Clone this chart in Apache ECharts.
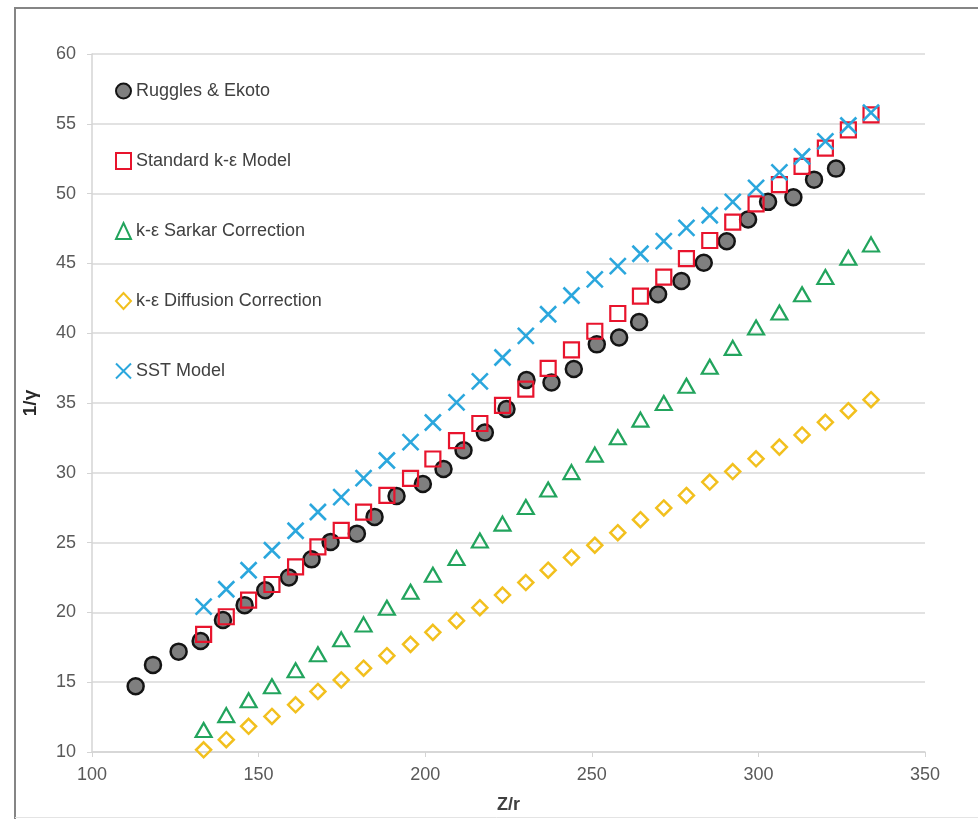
<!DOCTYPE html>
<html>
<head>
<meta charset="utf-8">
<script src="https://cdn.jsdelivr.net/npm/echarts@6/dist/echarts.min.js"></script>
<style>
html,body{margin:0;padding:0;background:#fff;}
#chart{width:978px;height:819px;}
</style>
</head>
<body>
<div id="chart"></div>
<script>
// Ruggles & Ekoto experimental data
const rugglesX = [113.1, 118.3, 126.0, 132.6, 139.3, 145.8, 152.0, 159.1, 165.9, 171.6, 179.5, 184.8, 191.4, 199.3, 205.5, 211.5, 217.9, 224.4, 230.4, 237.9, 244.6, 251.5, 258.2, 264.2, 269.9, 276.9, 283.6, 290.5, 296.9, 302.9, 310.5, 316.7, 323.3];
const rugglesY = [14.71, 16.24, 17.19, 17.95, 19.45, 20.52, 21.59, 22.5, 23.8, 25.05, 25.64, 26.84, 28.34, 29.2, 30.27, 31.62, 32.88, 34.57, 36.65, 36.47, 37.43, 39.2, 39.69, 40.8, 42.79, 43.74, 45.05, 46.59, 48.14, 49.41, 49.74, 51.0, 51.79];

// Model x positions (shared by all CFD series)
const modelX = [133.5, 140.3, 147.0, 154.0, 161.1, 167.8, 174.8, 181.5, 188.5, 195.6, 202.3, 209.4, 216.4, 223.2, 230.2, 236.9, 243.9, 250.9, 257.8, 264.6, 271.6, 278.4, 285.4, 292.3, 299.3, 306.3, 313.1, 320.1, 327.0, 333.8];
const standardY = [18.43, 19.69, 20.88, 22.0, 23.26, 24.7, 25.88, 27.19, 28.38, 29.6, 30.99, 32.31, 33.53, 34.83, 36.0, 37.48, 38.81, 40.14, 41.41, 42.66, 44.02, 45.34, 46.64, 47.95, 49.26, 50.64, 51.95, 53.26, 54.57, 55.64];
const sarkarY = [11.57, 12.64, 13.71, 14.71, 15.86, 17.0, 18.07, 19.14, 20.33, 21.48, 22.7, 23.9, 25.15, 26.36, 27.55, 28.8, 30.05, 31.3, 32.55, 33.81, 35.0, 36.24, 37.6, 38.95, 40.41, 41.48, 42.79, 44.02, 45.41, 46.36];
const diffusionY = [10.16, 10.88, 11.84, 12.55, 13.38, 14.34, 15.16, 16.0, 16.9, 17.71, 18.57, 19.41, 20.34, 21.24, 22.14, 23.02, 23.93, 24.81, 25.71, 26.64, 27.48, 28.38, 29.34, 30.09, 31.0, 31.84, 32.71, 33.62, 34.45, 35.24];
const sstY = [20.41, 21.66, 23.02, 24.45, 25.85, 27.19, 28.26, 29.62, 30.88, 32.2, 33.6, 35.05, 36.55, 38.26, 39.81, 41.36, 42.7, 43.86, 44.81, 45.69, 46.59, 47.55, 48.45, 49.41, 50.41, 51.52, 52.66, 53.74, 54.88, 55.8];

const seriesNames = ['Ruggles & Ekoto', 'Standard k-\u03b5 Model', 'k-\u03b5 Sarkar Correction', 'k-\u03b5 Diffusion Correction', 'SST Model'];
const xTicks = [100, 150, 200, 250, 300, 350];
const yTicks = [10, 15, 20, 25, 30, 35, 40, 45, 50, 55, 60];

function pairs(xs, ys) { return xs.map((x, i) => [x, ys[i]]); }

const FONT = '"Liberation Sans", Arial, sans-serif';
const chart = echarts.init(document.getElementById('chart'), null, {renderer: 'canvas'});
const clear = 'rgba(0,0,0,0)';

chart.setOption({
  animation: false,
  backgroundColor: '#ffffff',
  textStyle: {fontFamily: FONT},
  graphic: [
    {type: 'polyline', shape: {points: [[15, 819], [15, 8], [978, 8]]}, style: {stroke: '#858585', lineWidth: 2, fill: null}, silent: true},
    {type: 'line', shape: {x1: 15, y1: 817.5, x2: 978, y2: 817.5}, style: {stroke: '#e4e4e4', lineWidth: 1}, silent: true}
  ],
  grid: {left: 92, right: 53, top: 54, bottom: 65, containLabel: false},
  legend: {
    orient: 'vertical',
    left: 110,
    top: 77,
    itemWidth: 15,
    itemHeight: 16,
    itemGap: 52,
    data: seriesNames,
    textStyle: {fontFamily: FONT, fontSize: 18, color: '#404040', lineHeight: 16},
    selectedMode: false
  },
  xAxis: {
    type: 'value',
    min: xTicks[0], max: xTicks[xTicks.length - 1], interval: 50,
    name: 'Z/r', nameLocation: 'middle', nameGap: 44,
    nameTextStyle: {fontFamily: FONT, fontSize: 18, fontWeight: 'bold', color: '#404040'},
    axisLine: {show: true, lineStyle: {color: '#d4d4d4', width: 1.5}},
    axisTick: {show: true, inside: false, length: 5, lineStyle: {color: '#d4d4d4'}},
    axisLabel: {fontFamily: FONT, fontSize: 18, color: '#595959', margin: 14},
    splitLine: {show: false}
  },
  yAxis: {
    type: 'value',
    min: yTicks[0], max: yTicks[yTicks.length - 1], interval: 5,
    name: '1/\u03b3', nameLocation: 'middle', nameGap: 52,
    nameTextStyle: {fontFamily: FONT, fontSize: 19, fontWeight: 'bold', color: '#262626'},
    axisLine: {show: true, lineStyle: {color: '#d4d4d4', width: 1.5}},
    axisTick: {show: true, inside: false, length: 5, lineStyle: {color: '#d4d4d4'}},
    axisLabel: {fontFamily: FONT, fontSize: 18, color: '#595959', margin: 16},
    splitLine: {show: true, lineStyle: {color: '#d9d9d9', width: 1.5}}
  },
  series: [
    {
      name: seriesNames[0], type: 'scatter', data: pairs(rugglesX, rugglesY),
      symbol: 'circle', symbolSize: 16,
      itemStyle: {color: '#7f7f7f', borderColor: '#141414', borderWidth: 2.5, opacity: 1}
    },
    {
      name: seriesNames[1], type: 'scatter', data: pairs(modelX, standardY),
      symbol: 'rect', symbolSize: 15,
      itemStyle: {color: clear, borderColor: '#e8142d', borderWidth: 2.2, opacity: 1}
    },
    {
      name: seriesNames[2], type: 'scatter', data: pairs(modelX, sarkarY),
      symbol: 'triangle', symbolSize: [16, 14],
      itemStyle: {color: clear, borderColor: '#22a45d', borderWidth: 2.2, opacity: 1}
    },
    {
      name: seriesNames[3], type: 'scatter', data: pairs(modelX, diffusionY),
      symbol: 'diamond', symbolSize: [15, 15],
      itemStyle: {color: clear, borderColor: '#f2c01e', borderWidth: 2.5, opacity: 1}
    },
    {
      name: seriesNames[4], type: 'scatter', data: pairs(modelX, sstY),
      symbol: 'path://M0,0L10,10M10,0L0,10', symbolSize: 16,
      itemStyle: {color: clear, borderColor: '#2ba7dd', borderWidth: 2.6, opacity: 1}
    }
  ]
});
</script>
</body>
</html>
